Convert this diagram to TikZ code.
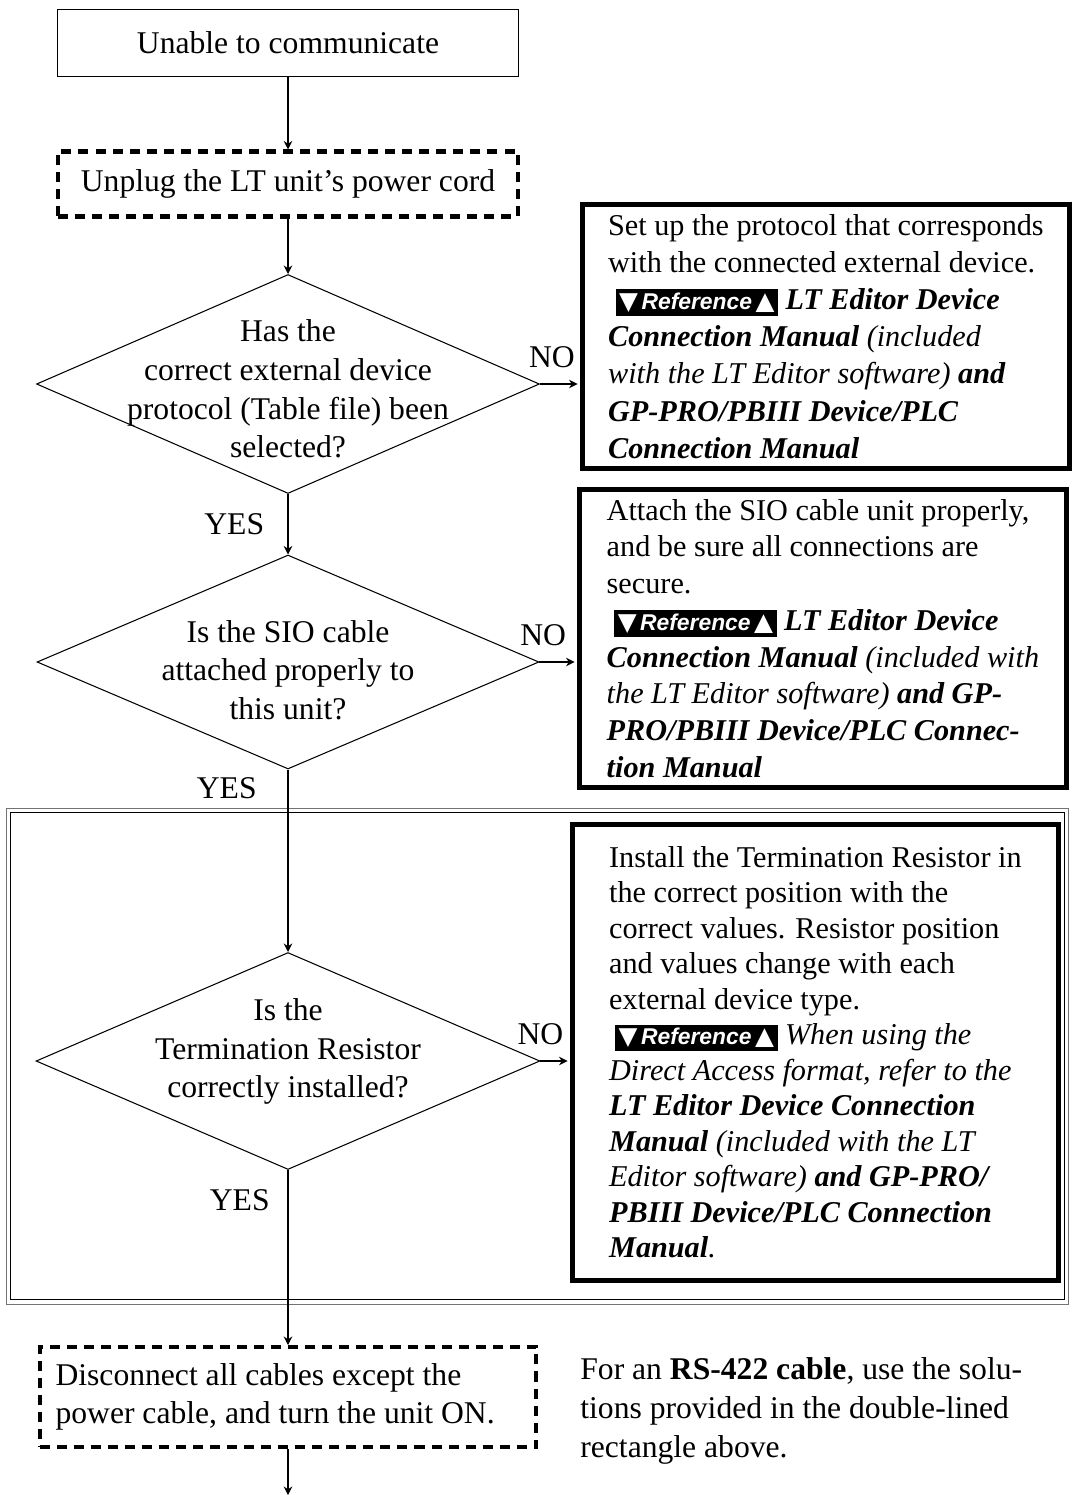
\documentclass[tikz,border=0pt]{standalone}
\usepackage{fontspec}
\setmainfont{Liberation Serif}
\newfontfamily\refsans{Liberation Sans}
\newfontfamily\symfont{DejaVu Sans}
\usetikzlibrary{shapes.geometric,arrows.meta}

% the little "Reference" banner used in the answer boxes
\newcommand{\refmark}{{\setlength{\fboxsep}{2pt}\colorbox{black}{\color{white}%
  {\symfont\fontsize{14}{14}\selectfont ▼}\hspace{2pt}%
  {\refsans\bfseries\itshape\fontsize{13}{14}\selectfont Reference}\hspace{2pt}%
  {\symfont\fontsize{14}{14}\selectfont ▲}}}}
\newcommand{\bi}[1]{\textbf{\textit{#1}}}

\tikzset{
  link/.style={line width=0.6pt, -{Stealth[length=1.7mm,width=1.7mm]}},
  startbox/.style={draw, line width=0.6pt, minimum width=9.22cm, minimum height=1.34cm},
  stepdash/.style={draw, line width=2.3pt, dash pattern=on 5.7pt off 4pt},
  decision/.style={draw, diamond, line width=0.6pt, inner sep=0pt},
  answer/.style={draw, line width=2.8pt, align=left, anchor=north west, inner sep=0pt,
    minimum width=9.74cm, font=\fontsize{17.2}{21.2}\selectfont},
  rsframe/.style={draw, line width=0.5pt, inner sep=0pt},
}

\begin{document}
\begin{tikzpicture}[x=0.02cm, y=-0.02cm, font=\fontsize{18}{22}\selectfont]
    \useasboundingbox (0,0) rectangle (1072,1495);

    % double frame round the RS-422 part
    \node[rsframe, draw=black!55, minimum width=21.26cm, minimum height=9.92cm] (rsbox) at (537.5,1056) {};
    \node[rsframe, minimum width=21.1cm, minimum height=9.74cm] (rsinner) at (537.5,1056) {};

    \node[startbox] (start) at (288,43) {Unable to communicate};
    \node[stepdash, minimum width=9.2cm, minimum height=1.3cm] (unplug) at (288,184)
        {Unplug the LT unit’s power cord};

    \node[decision, minimum width=10.06cm, minimum height=4.38cm,
        label={[align=center, yshift=-0.1cm]center:Has the\\correct external device\\protocol (Table file) been\\selected?}]
        (proto) at (288,384) {};
    \node[answer, minimum height=5.28cm] (fixproto) at (580,202)
        {Set up the protocol that corresponds\\
         with the connected external device.\\
         \hspace*{0.15cm}\refmark\ \bi{LT Editor Device}\\
         \bi{Connection Manual} \textit{(included}\\
         \textit{with the LT Editor software)} \bi{and}\\
         \bi{GP-PRO/PBIII Device/PLC}\\
         \bi{Connection Manual}};

    \node[decision, minimum width=10.04cm, minimum height=4.28cm,
        label={[align=center, yshift=-0.16cm]center:Is the SIO cable\\attached properly to\\this unit?}]
        (sio) at (288,662) {};
    \node[answer, minimum height=5.96cm, font=\fontsize{17.2}{20.9}\selectfont] (fixsio) at (577,487)
        {Attach the SIO cable unit properly,\\
         and be sure all connections are\\
         secure.\\
         \hspace*{0.15cm}\refmark\ \bi{LT Editor Device}\\
         \bi{Connection Manual} \textit{(included with}\\
         \textit{the LT Editor software)} \bi{and GP-}\\
         \bi{PRO/PBIII Device/PLC Connec-}\\
         \bi{tion Manual}};

    \node[decision, minimum width=10.08cm, minimum height=4.34cm,
        label={[align=center, yshift=0.19cm]center:Is the\\Termination Resistor\\correctly installed?}]
        (term) at (288,1061) {};
    \node[answer, minimum width=9.72cm, minimum height=9.12cm, font=\fontsize{17.2}{20.2}\selectfont]
        (fixterm) at (570,822)
        {Install the Termination Resistor in\\
         the correct position with the\\
         correct values. Resistor position\\
         and values change with each\\
         external device type.\\
         \hspace*{0.12cm}\refmark\ \textit{When using the}\\
         \textit{Direct Access format, refer to the}\\
         \bi{LT Editor Device Connection}\\
         \bi{Manual} \textit{(included with the LT}\\
         \textit{Editor software)} \bi{and GP-PRO/}\\
         \bi{PBIII Device/PLC Connection}\\
         \bi{Manual}\textit{.}};

    \node[stepdash, minimum width=9.94cm, minimum height=2.0cm, align=flush left, inner xsep=0pt,
        text width=9.3cm] (discon) at (288,1397)
        {Disconnect all cables except the\\power cable, and turn the unit ON.};
    \coordinate (exit) at (288,1495);

    \node[anchor=north west, align=left, inner sep=0pt, font=\fontsize{18}{22.3}\selectfont]
        (rsnote) at (580,1357)
        {For an \textbf{RS-422 cable}, use the solu-\\tions provided in the double-lined\\rectangle above.};

    % connectors
    \draw[link] (start) -- (unplug);
    \draw[link] (unplug) -- (proto);
    \draw[link] (proto) -- node[left=0.35cm, pos=0.5] {YES} (sio);
    \draw[link] (sio) -- node[left=0.5cm, pos=0.1] {YES} (term);
    \draw[link] (term) -- node[left=0.24cm, pos=0.17] {YES} (discon);
    \draw[link] (discon) -- (exit);
    \draw[link, shorten >=1.4pt] (proto.east) -- node[above=0.2cm, pos=0.3] {NO} (fixproto.west |- proto.east);
    \draw[link, shorten >=1.4pt] (sio.east) -- node[above=0.2cm, pos=0.1] {NO} (fixsio.west |- sio.east);
    \draw[link, shorten >=1.4pt] (term.east) -- node[above=0.2cm, pos=0] {NO} (fixterm.west |- term.east);
\end{tikzpicture}
\end{document}
